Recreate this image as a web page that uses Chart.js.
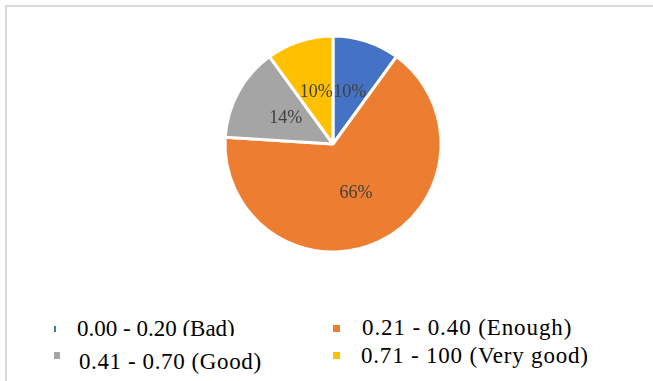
<!DOCTYPE html>
<html lang="en">
<head>
    <meta charset="UTF-8">
    <title>Pie</title>
    <script src="https://cdn.jsdelivr.net/npm/chart.js@4.4.0/dist/chart.umd.min.js"></script>
    <style>
        body { margin: 0; background: #fff; width: 653px; height: 381px; overflow: hidden; position: relative; }
        #frame { position: absolute; left: 5px; top: 5px; width: 648px; height: 376px; border-top: 2px solid #d9d9d9; border-left: 2px solid #d9d9d9; }
        #recuadro { position: absolute; left: 218px; top: 29px; }
        .mark { position: absolute; }
        .txt { position: absolute; font-family: "Liberation Serif", serif; font-size: 23px; line-height: 23px; color: #000; white-space: nowrap; overflow: hidden; }
    </style>
</head>
<body>
    <div id="frame"></div>
    <canvas id="recuadro" width="230" height="230"></canvas>
    <div id="leyenda"></div>

    <script>
        const categorias = ['0.00 - 0.20 (Bad)', '0.21 - 0.40 (Enough)', '0.41 - 0.70 (Good)', '0.71 - 100 (Very good)'];
        const porcentajes = [10, 66, 14, 10];
        const colores = ['#4472C4', '#ED7D31', '#A5A5A5', '#FFC000'];

        // donde va cada item de la leyenda (marcador y texto)
        const slots = [
            { x: 54, y: 326, w: 2, h: 6, tx: 77, ty: 317, alto: 19, ls: 0 },
            { x: 333, y: 325, w: 7, h: 7, tx: 362, ty: 316, alto: 26, ls: 0.9 },
            { x: 54, y: 352, w: 6, h: 7, tx: 79, ty: 350, alto: 26, ls: 0.6 },
            { x: 333, y: 352, w: 7, h: 7, tx: 361, ty: 344, alto: 26, ls: 0.8 }
        ];

        const etiquetas = {
            id: 'etiquetas',
            afterDatasetsDraw(chart) {
                const ctx = chart.ctx;
                const meta = chart.getDatasetMeta(0);
                ctx.save();
                ctx.font = '18px "Liberation Serif", serif';
                ctx.fillStyle = '#404040';
                ctx.textAlign = 'center';
                ctx.textBaseline = 'middle';
                meta.data.forEach((arc, i) => {
                    const p = arc.getCenterPoint();
                    ctx.fillText(chart.data.datasets[0].data[i] + '%', p.x, p.y);
                });
                ctx.restore();
            }
        };

        const ctx = document.getElementById('recuadro').getContext('2d');
        const myChart = new Chart(ctx, {
            type: 'pie',
            data: {
                labels: categorias,
                datasets: [{
                    data: porcentajes,
                    backgroundColor: colores,
                    borderColor: '#ffffff',
                    borderWidth: 3
                }]
            },
            options: {
                responsive: false,
                animation: false,
                radius: 108,
                plugins: {
                    legend: { display: false },
                    tooltip: { enabled: false }
                }
            },
            plugins: [etiquetas]
        });

        // leyenda en html a partir de los items que genera chart.js
        const items = Chart.overrides.pie.plugins.legend.labels.generateLabels(myChart);
        const leyenda = document.getElementById('leyenda');
        items.forEach((item, i) => {
            const s = slots[i];
            const m = document.createElement('div');
            m.className = 'mark';
            m.style.cssText = `left:${s.x}px;top:${s.y}px;width:${s.w}px;height:${s.h}px;background:${item.fillStyle};`;
            leyenda.appendChild(m);
            const t = document.createElement('div');
            t.className = 'txt';
            t.textContent = item.text;
            t.style.cssText = `left:${s.tx}px;top:${s.ty}px;height:${s.alto}px;letter-spacing:${s.ls}px;`;
            leyenda.appendChild(t);
        });
    </script>
</body>
</html>
